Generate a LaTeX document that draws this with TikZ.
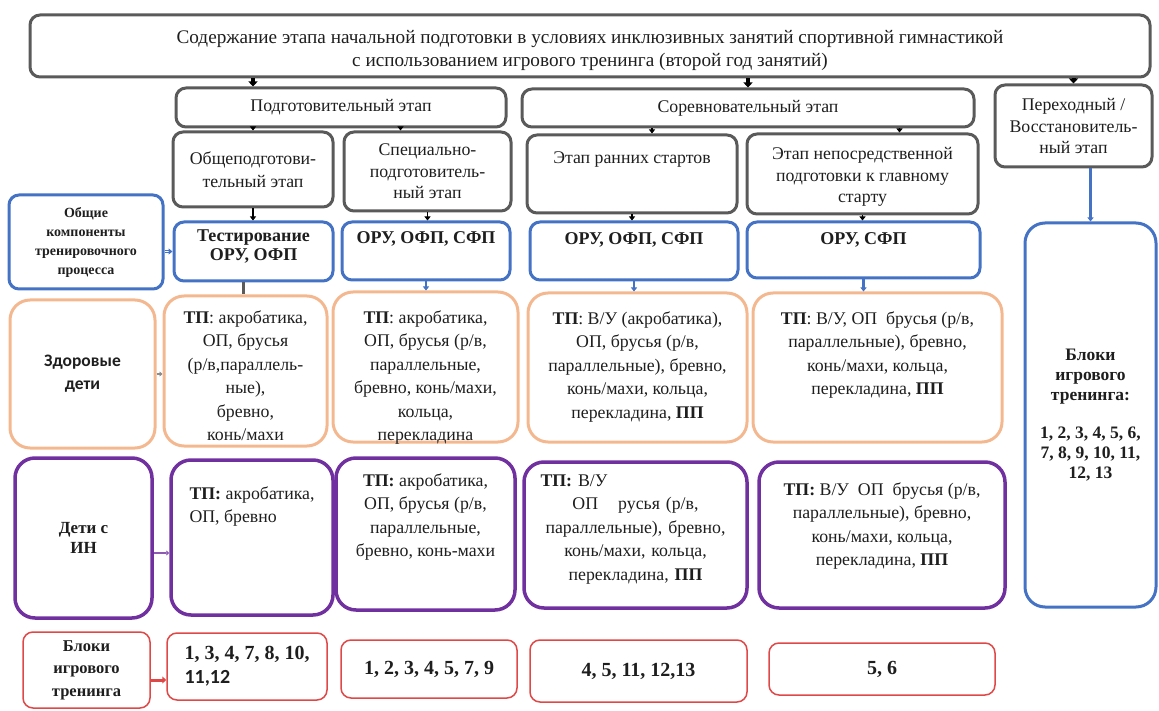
\documentclass[tikz,border=0pt]{standalone}
\usepackage{fontspec}
\setmainfont{Liberation Serif}
\newfontfamily\calib{Carlito}
\usetikzlibrary{arrows.meta,positioning}

\definecolor{boxgray}{HTML}{5A5A5A}
\definecolor{boxblue}{HTML}{4472C4}
\definecolor{boxorange}{HTML}{F4B890}
\definecolor{boxpurple}{HTML}{7030A0}
\definecolor{boxred}{HTML}{E04848}
\definecolor{txtcol}{HTML}{1E1E1E}

\newcommand{\fsz}[2]{\fontsize{#1}{#2}\selectfont}
\newcommand{\bx}[6]{\node[#6, minimum width={#4-#2}, minimum height={#5-#3}] (#1) at ({(#2+#4)/2},{(#3+#5)/2})}

\begin{document}
\begin{tikzpicture}
    [x=1pt, y=-1pt,
    base/.style={rounded corners=10pt, align=center, inner sep=2pt, text=txtcol, font=\fsz{17.8}{23}},
    gbox/.style={base, draw=boxgray, line width=3pt},
    bbox/.style={base, draw=boxblue, line width=3pt},
    obox/.style={base, draw=boxorange, line width=3pt, rounded corners=20pt},
    pbox/.style={base, draw=boxpurple, line width=3.5pt, rounded corners=20pt},
    rbox/.style={base, draw=boxred, line width=1.5pt},
    txt/.style={inner sep=0pt, align=center, text=txtcol, font=\fsz{17.8}{23.5}},
    darr/.style={line width=4pt, -{Triangle[length=5pt,width=9pt]}},
    sarr/.style={line width=1.6pt, -{Triangle[length=4pt,width=6pt]}},
    barr/.style={boxblue, line width=2.5pt, -{Triangle[length=4pt,width=6pt]}}]

    \useasboundingbox (0,0) rectangle (1159,711);

    \bx{top}{30}{15}{1150}{77}{gbox, font=\fsz{19.2}{23}}
        {\rule{0pt}{23pt}Содержание этапа начальной подготовки в условиях инклюзивных занятий спортивной гимнастикой\\
         с использованием игрового тренинга (второй год занятий)};
    \bx{prep}{176}{88}{506}{127}{gbox} {Подготовительный этап};
    \bx{comp}{522}{89}{974}{127}{gbox} {Соревновательный этап};
    \bx{trans}{995}{85}{1152}{167}{gbox, font=\fsz{17.8}{21.5}} {Переходный /\\Восстановитель-\\ный этап};

    \bx{gen}{173}{132}{333}{207}{gbox} {Общеподготови-\\тельный этап};
    \bx{spec}{344}{132}{511}{211}{gbox, font=\fsz{17.8}{21.5}} {Специально-\\подготовитель-\\ный этап};
    \bx{early}{527}{135}{737}{213}{gbox} {};
    \node[txt, below=18pt] (early-t) at (early.north) {Этап ранних стартов};
    \bx{direct}{747}{134}{978}{214}{gbox, font=\fsz{17.8}{21.5}} {\rule{0pt}{18pt}Этап непосредственной\\подготовки к главному\\старту};

    \bx{gc}{9}{195}{163}{289}{bbox, font=\fsz{14}{19}\bfseries} {Общие\\компоненты\\тренировочного\\процесса};
    \bx{test}{174}{222}{333}{281}{bbox} {};
    \node[txt, below=9pt, font=\fsz{18}{19}\bfseries] (test-t) at (test.north) {Тестирование\\ОРУ, ОФП};
    \bx{oru2}{342}{222}{510}{280}{bbox} {};
    \node[txt, below=11pt, font=\fsz{18}{19}\bfseries] (oru2-t) at (oru2.north) {ОРУ, ОФП, СФП};
    \bx{oru3}{530}{222}{738}{280}{bbox} {};
    \node[txt, below=12pt, font=\fsz{18}{19}\bfseries] (oru3-t) at (oru3.north) {ОРУ, ОФП, СФП};
    \bx{oru4}{747}{222}{980}{278}{bbox} {};
    \node[txt, below=12pt, font=\fsz{18}{19}\bfseries] (oru4-t) at (oru4.north) {ОРУ, СФП};
    \bx{big}{1025}{223}{1156}{607}{bbox, rounded corners=20pt, font=\fsz{17.5}{20}\bfseries}
        {Блоки\\игрового\\тренинга:\\[18pt]1, 2, 3, 4, 5, 6,\\7, 8, 9, 10, 11,\\12, 13};

    \bx{hc}{10}{300}{155}{448}{obox, font=\fsz{17.5}{23}\calib\bfseries} {Здоровые\\дети};
    \bx{or1}{164}{296}{327}{446}{obox} {};
    \node[txt] (or1-t) [below=16pt] at (or1.north)
        {\textbf{ТП}: акробатика,\\ОП, брусья\\(р/в,параллель-\\ные),\\бревно,\\конь/махи};
    \bx{or2}{333}{292}{518}{442}{obox} {};
    \node[txt] (or2-t) [below=20pt] at (or2.north)
        {\textbf{ТП}: акробатика,\\ОП, брусья (р/в,\\параллельные,\\бревно, конь/махи,\\кольца,\\перекладина};
    \bx{or3}{528}{293}{747}{442}{obox} {};
    \node[txt] (or3-t) [below=20pt] at (or3.north)
        {\textbf{ТП}: В/У (акробатика),\\ОП, брусья (р/в,\\параллельные), бревно,\\конь/махи, кольца,\\перекладина, \textbf{ПП}};
    \bx{or4}{753}{293}{1002}{442}{obox} {};
    \node[txt] (or4-t) [below=20pt] at (or4.north)
        {\textbf{ТП}: В/У, ОП\ \ брусья (р/в,\\параллельные), бревно,\\конь/махи, кольца,\\перекладина, \textbf{ПП}};

    \bx{dc}{15}{458}{152}{618}{pbox, font=\fsz{17}{20}\bfseries} {Дети с\\ИН};
    \bx{pu1}{171}{460}{333}{615}{pbox} {};
    \node[txt, align=left] (pu1-t) [below=28pt] at (pu1.north) {\textbf{ТП:} акробатика,\\ОП, бревно};
    \bx{pu2}{336}{458}{515}{610}{pbox} {};
    \node[txt] (pu2-t) [below=17pt] at (pu2.north)
        {\textbf{ТП:} акробатика,\\ОП, брусья (р/в,\\параллельные,\\бревно, конь-махи};
    \bx{pu3}{524}{462}{747}{608}{pbox} {};
    \node[txt, text width=190pt] (pu3-t) [below=14pt] at (pu3.north)
        {\textbf{ТП:} В/У\hfill\null\\ОП\hspace{20pt}русья (р/в,\\параллельные), бревно,\\конь/махи, кольца,\\перекладина, \textbf{ПП}};
    \bx{pu4}{759}{462}{1005}{608}{pbox} {};
    \node[txt] (pu4-t) [below=22pt] at (pu4.north)
        {\textbf{ТП:} В/У\ \ ОП\ \ брусья (р/в,\\параллельные), бревно,\\конь/махи, кольца,\\перекладина, \textbf{ПП}};

    \bx{bc}{23}{632}{150}{708}{rbox, font=\fsz{16.5}{22.5}\bfseries} {Блоки\\игрового\\тренинга};
    \bx{r1}{167}{633}{327}{700}{rbox, align=left, font=\fsz{20}{24}\bfseries} {1, 3, 4, 7, 8, 10,\\{\calib 11,12}};
    \bx{r2}{341}{640}{517}{698}{rbox, font=\fsz{20}{24}\bfseries} {1, 2, 3, 4, 5, 7, 9};
    \bx{r3}{530}{640}{747}{702}{rbox, font=\fsz{20}{24}\bfseries} {4, 5, 11, 12,13};
    \bx{r4}{769}{643}{995}{695}{rbox, font=\fsz{20}{24}\bfseries} {5, 6};

    \draw[darr] (top.south -| gen.north) -- (prep.north -| gen.north);
    \draw[darr] (top.south -| comp.north) -- (comp.north);
    \draw[darr] (top.south -| trans.north) -- (trans.north);

    \draw[sarr] (prep.south -| gen.north) -- (gen.north);
    \draw[sarr] ([xshift=-27pt]spec.north |- prep.south) -- ([xshift=-27pt]spec.north);
    \draw[sarr] ([xshift=20pt]early.north |- comp.south) -- ([xshift=20pt]early.north);
    \draw[sarr] ([xshift=37pt]direct.north |- comp.south) -- ([xshift=37pt]direct.north);

    \draw[sarr] (gen.south) -- (gen.south |- test.north);
    \draw[sarr] (spec.south) -- (spec.south |- oru2.north);
    \draw[sarr] (early.south) -- (early.south |- oru3.north);
    \draw[sarr] (direct.south) -- (direct.south |- oru4.north);

    \draw[boxgray, line width=3pt] ([xshift=-10pt]test.south) -- ([xshift=-10pt]test.south |- or1.north);
    \draw[barr] (oru2.south) -- (oru2.south |- or2.north);
    \draw[barr] (oru3.south) -- (oru3.south |- or3.north);
    \draw[barr] (oru4.south) -- (oru4.south |- or4.north);
    \draw[barr] (trans.south -| big.north) -- (big.north);

    \draw[barr, double=white, double distance=1.5pt, line width=1.2pt] (test.west -| gc.east) -- (test.west);
    \draw[boxgray!70, line width=2pt, -{Triangle[length=3pt,width=5pt]}] (hc.east) -- (hc.east -| or1.west);
    \draw[boxpurple!80, line width=2pt, -{Triangle[length=3pt,width=5pt]}] ([yshift=-15pt]dc.east) -- ([yshift=-15pt]dc.east -| pu1.west);
    \draw[boxred, line width=3pt, -{Triangle[length=4pt,width=7pt]}] ([yshift=-10pt]bc.east) -- ([yshift=-10pt]bc.east -| r1.west);

\end{tikzpicture}
\end{document}
